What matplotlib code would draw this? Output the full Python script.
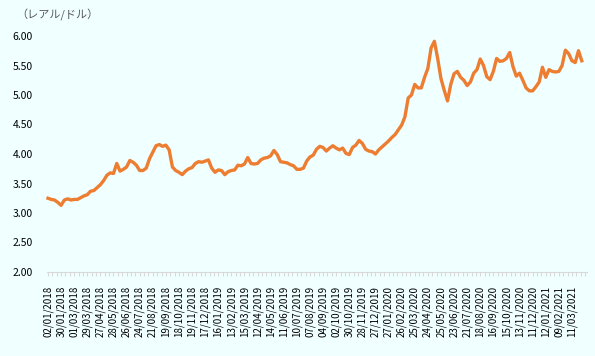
import numpy as np
import matplotlib
matplotlib.use("Agg")
import matplotlib.pyplot as plt

plt.rcParams['font.family'] = ['Noto Sans CJK JP', 'DejaVu Sans']

# BRL per USD, one value every 5 trading days from 02/01/2018
rate = [
    3.25, 3.23, 3.22, 3.18, 3.13, 3.22, 3.24, 3.22, 3.23, 3.23,
    3.26, 3.29, 3.31, 3.37, 3.38, 3.43, 3.48, 3.55, 3.64, 3.68,
    3.67, 3.84, 3.71, 3.74, 3.78, 3.89, 3.86, 3.81, 3.72, 3.72,
    3.76, 3.92, 4.03, 4.14, 4.16, 4.13, 4.15, 4.07, 3.78, 3.72,
    3.69, 3.65, 3.71, 3.75, 3.77, 3.84, 3.87, 3.86, 3.88, 3.90,
    3.76, 3.69, 3.73, 3.72, 3.65, 3.70, 3.72, 3.73, 3.81, 3.80,
    3.83, 3.94, 3.84, 3.83, 3.84, 3.90, 3.93, 3.94, 3.97, 4.06,
    3.99, 3.87, 3.86, 3.85, 3.82, 3.80, 3.74, 3.74, 3.76, 3.88,
    3.95, 3.98, 4.08, 4.13, 4.11, 4.05, 4.10, 4.14, 4.10, 4.07,
    4.10, 4.01, 3.99, 4.11, 4.15, 4.23, 4.18, 4.08, 4.05, 4.04,
    4.00, 4.07, 4.12, 4.17, 4.22, 4.28, 4.33, 4.41, 4.49, 4.63,
    4.95, 5.00, 5.18, 5.12, 5.12, 5.30, 5.45, 5.80, 5.91, 5.62,
    5.28, 5.08, 4.90, 5.18, 5.36, 5.40, 5.30, 5.25, 5.16, 5.22,
    5.37, 5.43, 5.61, 5.50, 5.31, 5.26, 5.40, 5.62, 5.57, 5.58,
    5.62, 5.72, 5.48, 5.32, 5.37, 5.25, 5.12, 5.07, 5.07, 5.14,
    5.22, 5.47, 5.30, 5.43, 5.40, 5.39, 5.40, 5.50, 5.76, 5.70,
    5.58, 5.55, 5.75, 5.58,
]

# one label every 4 samples (20 trading days)
date_labels = [
    '02/01/2018', '30/01/2018', '01/03/2018', '29/03/2018', '27/04/2018',
    '28/05/2018', '26/06/2018', '24/07/2018', '21/08/2018', '19/09/2018',
    '18/10/2018', '19/11/2018', '17/12/2018', '16/01/2019', '13/02/2019',
    '15/03/2019', '12/04/2019', '14/05/2019', '11/06/2019', '10/07/2019',
    '07/08/2019', '04/09/2019', '02/10/2019', '30/10/2019', '28/11/2019',
    '27/12/2019', '27/01/2020', '26/02/2020', '25/03/2020', '24/04/2020',
    '25/05/2020', '23/06/2020', '21/07/2020', '18/08/2020', '16/09/2020',
    '15/10/2020', '13/11/2020', '11/12/2020', '12/01/2021', '09/02/2021',
    '11/03/2021',
]
y_ticks = [2.0, 2.5, 3.0, 3.5, 4.0, 4.5, 5.0, 5.5, 6.0]

bg = '#F0FFFF'
fig = plt.figure(figsize=(5.95, 3.56), dpi=100, facecolor=bg)
ax = fig.add_axes([47 / 595, 1 - 272 / 356, 540 / 595, 236 / 356], facecolor=bg)

x = np.arange(len(rate))
ax.plot(x, rate, color='#ED7D31', linewidth=2.4, solid_joinstyle='round',
        clip_on=False)

ax.set_ylim(2.0, 6.0)
ax.set_xlim(-0.3, 164.6)
ax.set_yticks(y_ticks)
ax.set_yticklabels([f'{v:.2f}' for v in y_ticks], fontsize=7.5, color='#000000')
ax.tick_params(axis='y', length=0, pad=10)

step = 4
ax.set_xticks(np.arange(len(date_labels)) * step)
ax.set_xticklabels(date_labels, rotation=90, fontsize=7, color='#000000')
ax.set_xticks(np.arange(0, len(rate) + 1, step / 3), minor=True)
ax.tick_params(axis='x', which='both', length=3, color='#D9D9D9', width=0.8)
ax.tick_params(axis='x', which='major', pad=7)

for side in ['top', 'right', 'left']:
    ax.spines[side].set_visible(False)
ax.spines['bottom'].set_color('#D9D9D9')
ax.spines['bottom'].set_linewidth(0.8)

fig.text(16 / 595, 1 - 15 / 356, '（レアル/ドル）', fontsize=8, color='#595959',
         va='center', ha='left')

fig.savefig('out.png', dpi=100, facecolor=bg)
